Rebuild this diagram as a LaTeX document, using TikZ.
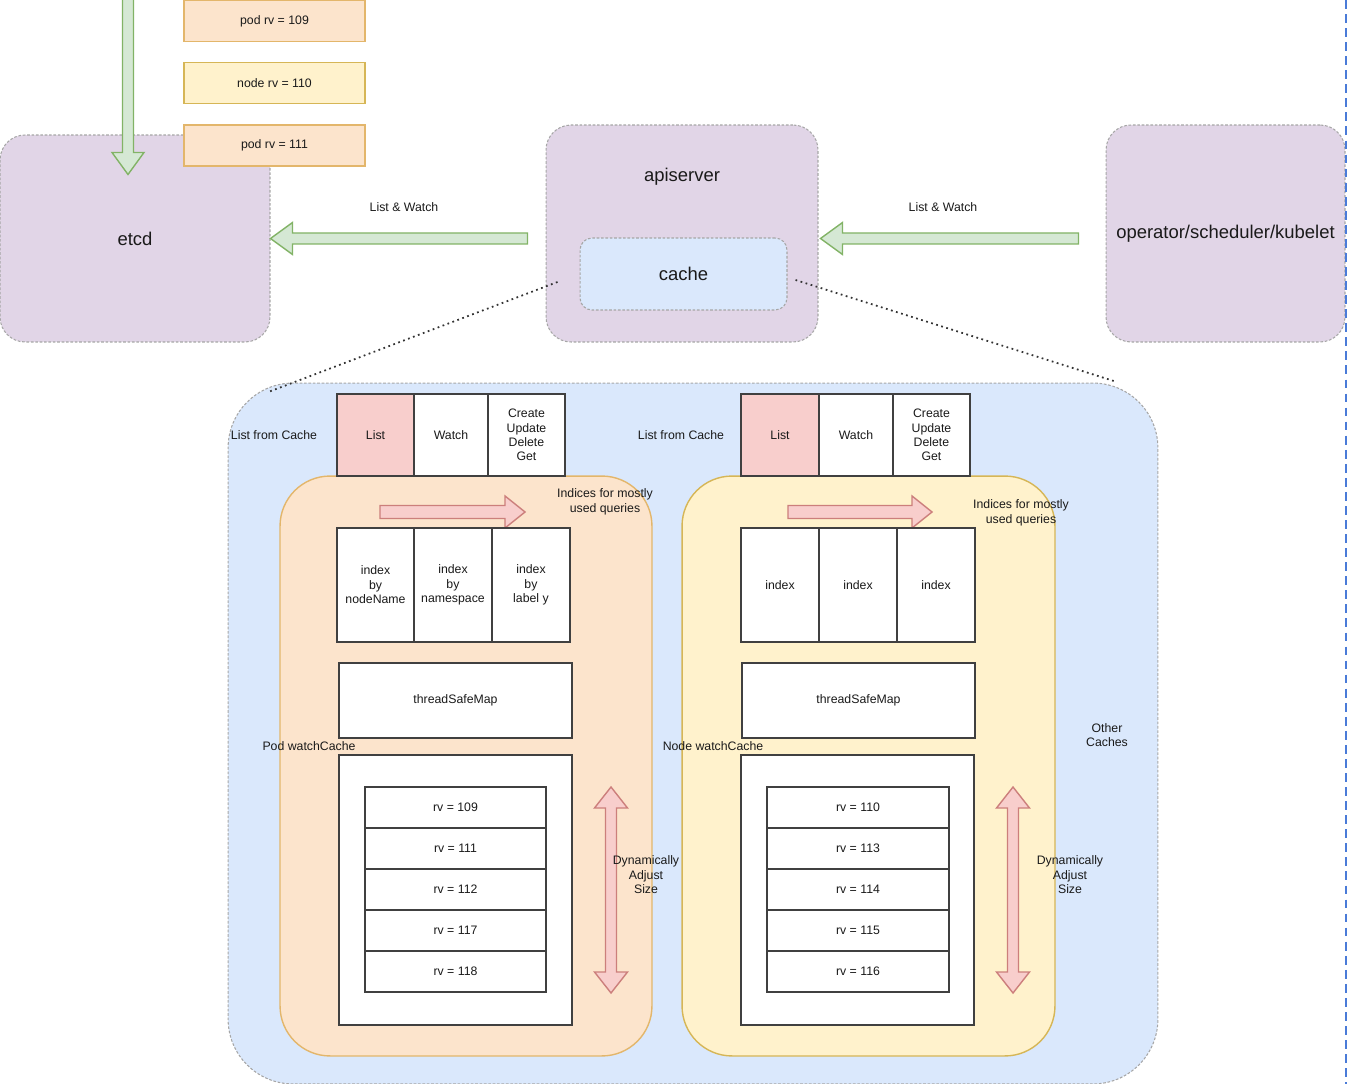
\documentclass[tikz,border=0pt]{standalone}
\usepackage{fontspec}
\setmainfont{Liberation Sans}
\usetikzlibrary{positioning,calc}

\definecolor{txt}{HTML}{1A1A1A}
\definecolor{lav}{HTML}{E1D5E7}
\definecolor{cachefill}{HTML}{DAE8FC}
\definecolor{podfill}{HTML}{FCE4CC}
\definecolor{podline}{HTML}{E3B66B}
\definecolor{nodefill}{HTML}{FFF2CC}
\definecolor{nodeline}{HTML}{D6B656}
\definecolor{listfill}{HTML}{F8CECC}
\definecolor{gfill}{HTML}{D5E8D4}
\definecolor{gline}{HTML}{82B366}
\definecolor{pline}{HTML}{CC7F7C}
\definecolor{pagebreak}{HTML}{4A7BD8}

% fat block arrows: shaft half width, head half width, head length
\tikzset{
    flex/.style n args={3}{
        to path={
            ($(\tikztostart)!#1!90:(\tikztotarget)$)
            -- ($(\tikztotarget)!#3!(\tikztostart) + (\tikztostart)!#1!90:(\tikztotarget) - (\tikztostart)$)
            -- ($(\tikztotarget)!#3!(\tikztostart) + (\tikztostart)!#2!90:(\tikztotarget) - (\tikztostart)$)
            -- (\tikztotarget)
            -- ($(\tikztotarget)!#3!(\tikztostart) + (\tikztostart)!#2!-90:(\tikztotarget) - (\tikztostart)$)
            -- ($(\tikztotarget)!#3!(\tikztostart) + (\tikztostart)!#1!-90:(\tikztotarget) - (\tikztostart)$)
            -- ($(\tikztostart)!#1!-90:(\tikztotarget)$)
            -- cycle
        }
    },
    flexdouble/.style n args={3}{
        to path={
            (\tikztostart)
            -- ($(\tikztostart)!#3!(\tikztotarget) + (\tikztostart)!#2!90:(\tikztotarget) - (\tikztostart)$)
            -- ($(\tikztostart)!#3!(\tikztotarget) + (\tikztostart)!#1!90:(\tikztotarget) - (\tikztostart)$)
            -- ($(\tikztotarget)!#3!(\tikztostart) + (\tikztostart)!#1!90:(\tikztotarget) - (\tikztostart)$)
            -- ($(\tikztotarget)!#3!(\tikztostart) + (\tikztostart)!#2!90:(\tikztotarget) - (\tikztostart)$)
            -- (\tikztotarget)
            -- ($(\tikztotarget)!#3!(\tikztostart) + (\tikztostart)!#2!-90:(\tikztotarget) - (\tikztostart)$)
            -- ($(\tikztotarget)!#3!(\tikztostart) + (\tikztostart)!#1!-90:(\tikztotarget) - (\tikztostart)$)
            -- ($(\tikztostart)!#3!(\tikztotarget) + (\tikztostart)!#1!-90:(\tikztotarget) - (\tikztostart)$)
            -- ($(\tikztostart)!#3!(\tikztotarget) + (\tikztostart)!#2!-90:(\tikztotarget) - (\tikztostart)$)
            -- cycle
        }
    }
}

\begin{document}
\begin{tikzpicture}[
    x=0.02cm, y=-0.02cm,
    every node/.style={font=\fontsize{7}{8.2}\selectfont, text=txt},
    big/.style={font=\fontsize{10.5}{12}\selectfont},
    role/.style={draw=gray!70, dash pattern=on 1.5pt off 1pt, line width=0.6pt, fill=lav, rounded corners=0.5cm},
    event/.style={line width=0.8pt, minimum width=3.62cm, minimum height=0.82cm, inner sep=0pt},
    cell/.style={draw=black!75, line width=0.8pt, fill=white, inner sep=0pt, outer sep=0pt, align=center},
    rvcell/.style={cell, minimum width=3.62cm, minimum height=0.82cm},
    watchcache/.style={line width=0.8pt, rounded corners=1cm, minimum width=7.44cm, minimum height=11.6cm},
    greenarrow/.style={flex={0.11cm}{0.32cm}{0.44cm}, fill=gfill, draw=gline, line width=0.8pt},
    pinkarrow/.style={flex={0.13cm}{0.32cm}{0.4cm}, fill=listfill, draw=pline, line width=0.8pt},
    pinkdouble/.style={flexdouble={0.11cm}{0.33cm}{0.42cm}, fill=listfill, draw=pline, line width=0.8pt},
    zoomline/.style={dotted, line width=1pt, black!80}
]

\useasboundingbox (0,0) rectangle (1348,1084);

% === Top row: etcd, apiserver, clients ===
\node[role, big, minimum width=5.4cm, minimum height=4.14cm] (etcd) at (135,238.5) {etcd};
\node[role, minimum width=5.44cm, minimum height=4.34cm] (api) at (682,233.5) {};
\node[big] (apiT) at (682,177) {apiserver};
\node[role, big, fill=cachefill, rounded corners=0.24cm, minimum width=4.14cm, minimum height=1.44cm] (cache) at (683.5,274) {cache};
\node[role, big, minimum width=4.78cm, minimum height=4.34cm] (oper) at (1225.5,233.5) {operator/scheduler/kubelet};

% Event stream into etcd
\coordinate (feed) at (128,-8);
\coordinate (etcdIn) at ([xshift=-0.14cm,yshift=-0.8cm]etcd.north);
\draw[greenarrow] (feed) to (etcdIn);

\node[event, fill=podfill, draw=podline] (ev109) at (274.5,21) {pod rv = 109};
\node[event, fill=nodefill, draw=nodeline] (ev110) at (274.5,83) {node rv = 110};
\node[event, fill=podfill, draw=podline] (ev111) at (274.5,145.5) {pod rv = 111};

% List & Watch
\coordinate (apiOut) at ([xshift=-0.36cm,yshift=-0.1cm]api.west);
\draw[greenarrow] (apiOut) to (etcd.east);
\coordinate (operOut) at ([xshift=-0.54cm,yshift=-0.1cm]oper.west);
\coordinate (apiIn) at ([xshift=0.04cm,yshift=-0.1cm]api.east);
\draw[greenarrow] (operOut) to (apiIn);
\node (lwL) at (404,207) {List \& Watch};
\node (lwR) at (943,207) {List \& Watch};

% === Cache detail ===
\node[role, fill=cachefill, rounded corners=1.3cm, minimum width=18.6cm, minimum height=14.02cm] (caches) at (693,733.5) {};
\draw[zoomline] ([xshift=-0.44cm,yshift=-0.16cm]cache.west) -- ([xshift=0.84cm,yshift=-0.18cm]caches.north west);
\draw[zoomline] ([xshift=0.16cm,yshift=-0.12cm]cache.east) -- ([xshift=-0.86cm,yshift=0.02cm]caches.north east);

\node[watchcache, fill=podfill, draw=podline] (podWC) at (466,766) {};
\node[watchcache, fill=nodefill, draw=nodeline, minimum width=7.46cm] (nodeWC) at (868.5,766) {};

% Pod watchCache
\node[cell, fill=listfill, minimum width=1.54cm, minimum height=1.64cm] (listP) at (375.5,435) {List};
\node[cell, right=0pt of listP, minimum width=1.48cm, minimum height=1.64cm] (watchP) {Watch};
\node[cell, right=0pt of watchP, minimum width=1.54cm, minimum height=1.64cm] (cudP) {Create\\Update\\Delete\\Get};
\node (fromP) at (274,435) {List from Cache};

\coordinate (ixArrP0) at (380,512);
\coordinate (ixArrP1) at (525,512);
\draw[pinkarrow] (ixArrP0) to (ixArrP1);
\node[align=center] (ixNoteP) at (605,502) {Indices for mostly\\used queries};

\node[cell, minimum width=1.54cm, minimum height=2.28cm] (ixP1) at (375.5,585) {index\\by\\nodeName};
\node[cell, right=0pt of ixP1, minimum width=1.56cm, minimum height=2.28cm] (ixP2) {index\\by\\namespace};
\node[cell, right=0pt of ixP2, minimum width=1.56cm, minimum height=2.28cm] (ixP3) {index\\by\\label y};

\node[cell, minimum width=4.66cm, minimum height=1.5cm] (mapP) at (455.5,700.5) {threadSafeMap};
\node (wcP) at (309,746) {Pod watchCache};

\node[cell, minimum width=4.66cm, minimum height=5.4cm] (bufP) at (455.5,890) {};
\foreach \rv [count=\i] in {109,111,112,117,118}
    \node[rvcell] (rvP\i) at (455.5,{766.5+41*\i}) {rv = \rv};

\coordinate (growP0) at (611,787);
\coordinate (growP1) at (611,993);
\draw[pinkdouble] (growP0) to (growP1);
\node[align=center] (dynP) at (646,875) {Dynamically\\Adjust\\Size};

% Node watchCache
\node[cell, fill=listfill, minimum width=1.56cm, minimum height=1.64cm] (listN) at (780,435) {List};
\node[cell, right=0pt of listN, minimum width=1.48cm, minimum height=1.64cm] (watchN) {Watch};
\node[cell, right=0pt of watchN, minimum width=1.54cm, minimum height=1.64cm] (cudN) {Create\\Update\\Delete\\Get};
\node (fromN) at (681,435) {List from Cache};

\coordinate (ixArrN0) at (788,512);
\coordinate (ixArrN1) at (932,512);
\draw[pinkarrow] (ixArrN0) to (ixArrN1);
\node[align=center] (ixNoteN) at (1021,513) {Indices for mostly\\used queries};

\node[cell, minimum width=1.56cm, minimum height=2.28cm] (ixN1) at (780,585) {index};
\node[cell, right=0pt of ixN1, minimum width=1.56cm, minimum height=2.28cm] (ixN2) {index};
\node[cell, right=0pt of ixN2, minimum width=1.56cm, minimum height=2.28cm] (ixN3) {index};

\node[cell, minimum width=4.66cm, minimum height=1.5cm] (mapN) at (858.5,700.5) {threadSafeMap};
\node (wcN) at (713,746) {Node watchCache};

\node[cell, minimum width=4.66cm, minimum height=5.4cm] (bufN) at (857.5,890) {};
\foreach \rv [count=\i] in {110,113,114,115,116}
    \node[rvcell, minimum width=3.64cm] (rvN\i) at (858,{766.5+41*\i}) {rv = \rv};

\coordinate (growN0) at (1013,787);
\coordinate (growN1) at (1013,993);
\draw[pinkdouble] (growN0) to (growN1);
\node[align=center] (dynN) at (1070,875) {Dynamically\\Adjust\\Size};

\node[align=center] (others) at (1107,735) {Other\\Caches};

% page break marker
\draw[pagebreak, line width=1.2pt, dash pattern=on 5pt off 3pt] (1346,0) -- (1346,1084);

\end{tikzpicture}
\end{document}
